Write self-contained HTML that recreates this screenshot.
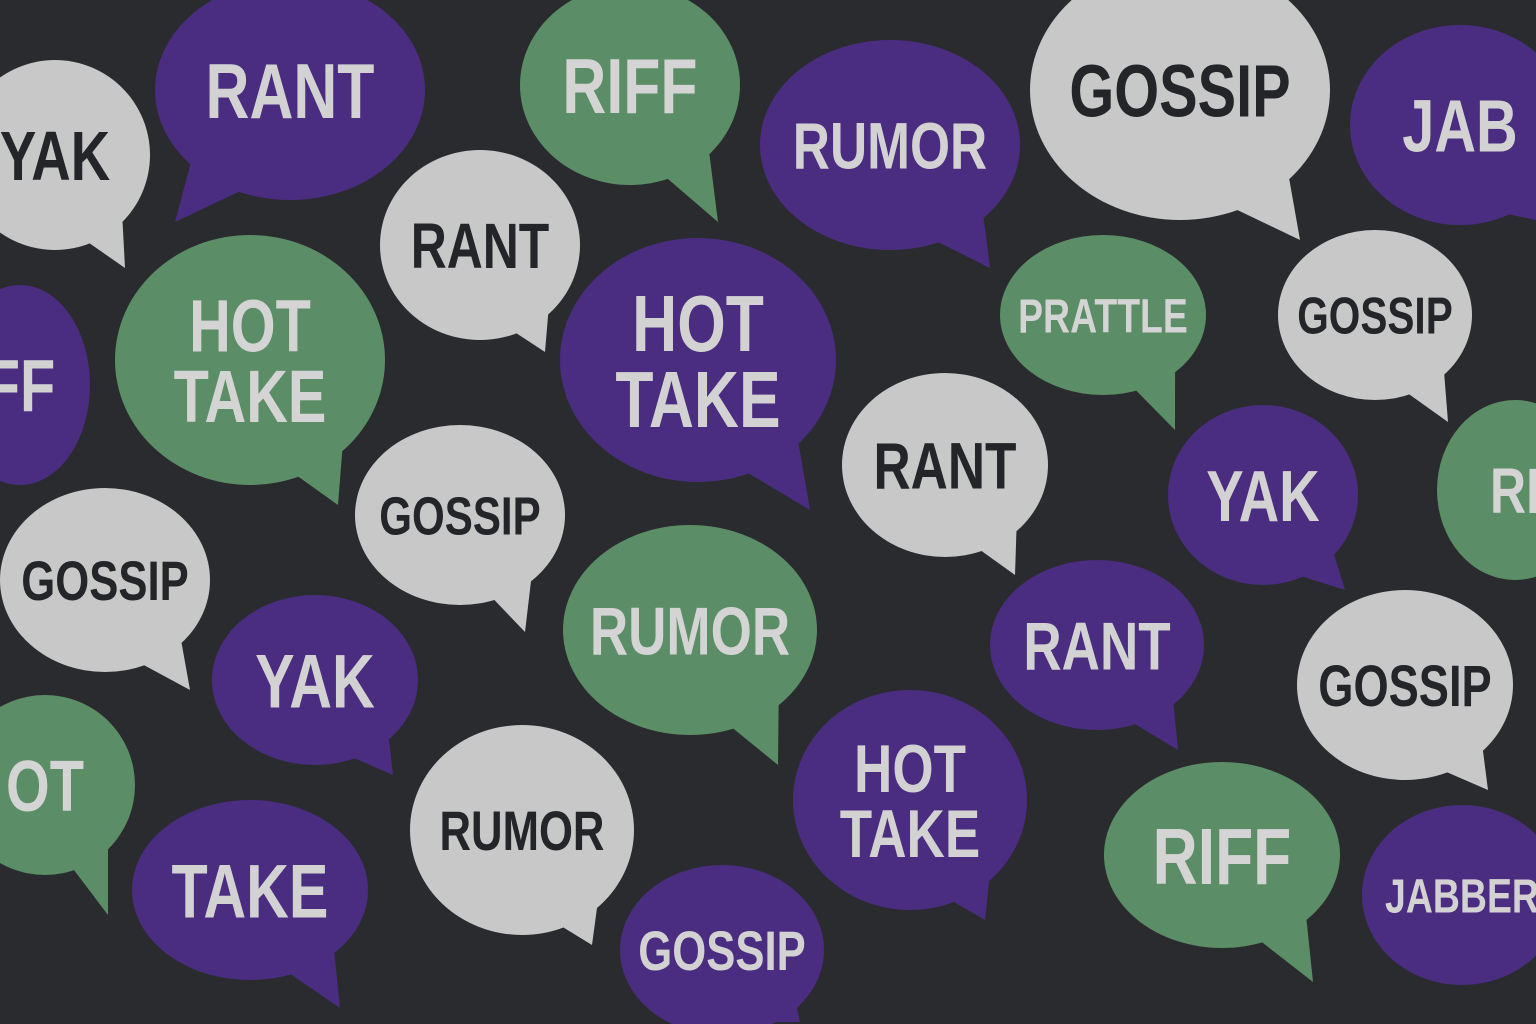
<!DOCTYPE html>
<html><head><meta charset="utf-8">
<style>
html,body{margin:0;padding:0;background:#2a2b2f;}
svg{display:block;}
text{font-family:"Liberation Sans",sans-serif;font-weight:bold;}
</style></head>
<body>
<svg id="art" width="1536" height="1024" viewBox="0 0 1536 1024" xmlns="http://www.w3.org/2000/svg">
<rect width="1536" height="1024" fill="#2a2b2f"/>
</svg>
<script>
// [cx, cy, rx, ry, color, lines, tipX, tipY, fontSize]
const bubbles = [
 [55,155,95,95,'g',['YAK'],125,268,70],
 [290,90,135,110,'p',['RANT'],175,222,78],
 [630,85,110,100,'n',['RIFF'],718,222,78],
 [890,145,130,105,'p',['RUMOR'],990,268,66],
 [1180,90,150,130,'g',['GOSSIP'],1300,240,74],
 [1460,125,110,100,'p',['JAB'],1536,220,74],
 [480,245,100,95,'g',['RANT'],545,352,64],
 [20,385,70,100,'p',['FF'],null,null,74],
 [250,360,135,125,'n',['HOT','TAKE'],338,505,74],
 [698,360,138,122,'p',['HOT','TAKE'],810,510,80],
 [1103,315,103,80,'n',['PRATTLE'],1175,430,48],
 [1375,315,97,85,'g',['GOSSIP'],1448,422,52],
 [945,465,103,92,'g',['RANT'],1015,575,66],
 [460,515,105,90,'g',['GOSSIP'],525,632,54],
 [1263,495,95,90,'p',['YAK'],1345,590,72],
 [1515,490,78,90,'n',['RI'],null,null,64],
 [105,580,105,92,'g',['GOSSIP'],190,690,56],
 [690,630,127,105,'n',['RUMOR'],778,765,68],
 [1097,645,107,85,'p',['RANT'],1178,750,68],
 [315,680,103,85,'p',['YAK'],393,775,76],
 [1405,685,108,95,'g',['GOSSIP'],1488,790,58],
 [45,785,90,90,'n',['OT'],108,915,72],
 [910,800,117,110,'p',['HOT','TAKE'],985,920,68],
 [522,830,112,105,'g',['RUMOR'],592,945,56],
 [250,890,118,90,'p',['TAKE'],340,1008,76],
 [1222,855,118,93,'n',['RIFF'],1313,982,80],
 [1462,895,100,90,'p',['JABBER'],null,null,48],
 [722,950,102,85,'p',['GOSSIP'],800,1022,56]
];
const fills = {p:'#4a2d80', n:'#5b8d66', g:'#c8c8c8'};
const inks = {p:'#d2d2d2', n:'#d4d4d4', g:'#242528'};
const svg = document.getElementById('art');
const NS = 'http://www.w3.org/2000/svg';
bubbles.forEach((b, i) => {
  const [cx, cy, rx, ry, c, lines, tx, ty, fs] = b;
  const g = document.createElementNS(NS, 'g');
  
  
  if (tx !== null) {
    const dir = tx >= cx ? 1 : -1;
    const p = document.createElementNS(NS, 'polygon');
    const a1x = cx + dir * rx * 0.25, a1y = cy + ry * 0.85;
    const a2x = cx + dir * rx * 0.7, a2y = cy + ry * 0.5;
    p.setAttribute('points', `${a1x},${a1y} ${tx},${ty} ${a2x},${a2y}`);
    p.setAttribute('fill', fills[c]);
    
    
    g.appendChild(p);
  }
  const e = document.createElementNS(NS, 'ellipse');
  e.setAttribute('cx', cx); e.setAttribute('cy', cy);
  e.setAttribute('rx', rx); e.setAttribute('ry', ry);
  e.setAttribute('fill', fills[c]);
  
  
  g.appendChild(e);
  const lh = fs * 0.95;
  const startY = cy - (lines.length - 1) * lh / 2 + fs * 0.36;
  lines.forEach((ln, j) => {
    const t = document.createElementNS(NS, 'text');
    t.setAttribute('x', cx);
    t.setAttribute('y', startY + j * lh);
    t.setAttribute('text-anchor', 'middle');
    t.setAttribute('font-size', fs);
    t.setAttribute('fill', inks[c]);
    t.setAttribute('transform', `translate(${cx},0) scale(0.78,1) translate(${-cx},0)`);
    
    
    t.textContent = ln;
    g.appendChild(t);
  });
  svg.appendChild(g);
});
</script>
</body></html>
